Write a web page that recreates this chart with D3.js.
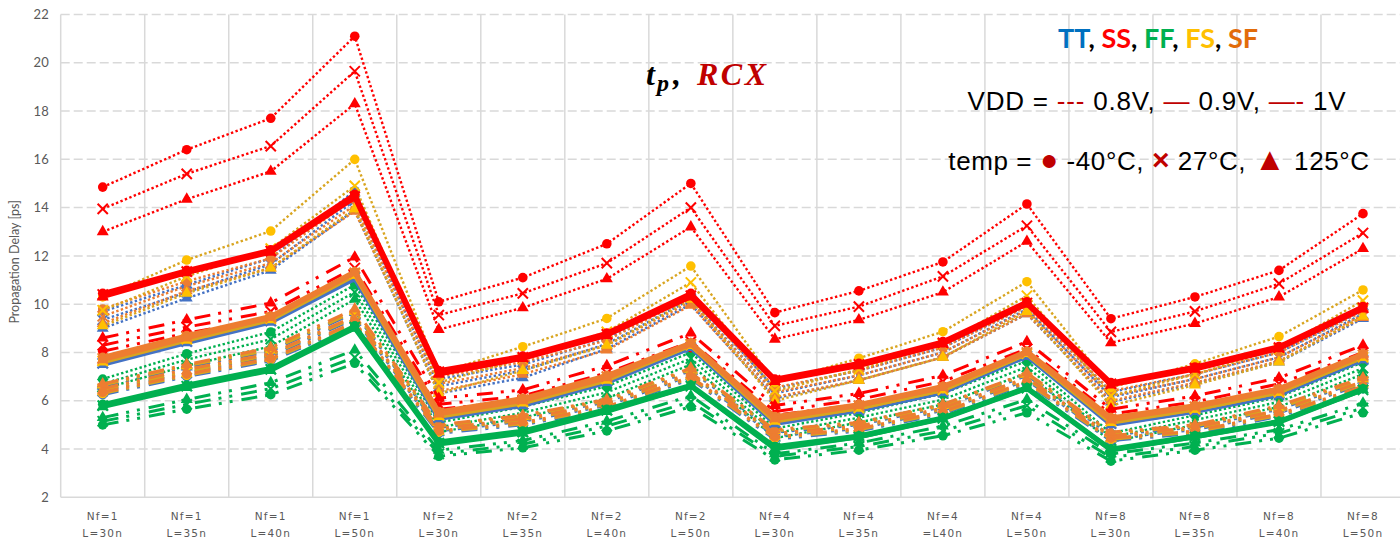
<!DOCTYPE html>
<html>
<head>
<meta charset="utf-8">
<script src="https://cdn.jsdelivr.net/npm/d3@7"></script>
<style>
  body { margin: 0; background: #fff; }
  svg { display: block; }
</style>
</head>
<body>
<svg id="chart" width="1400" height="539"></svg>
<script>
// ---- Categories (two-line tick labels) ----
const categoriesNf = ["Nf=1","Nf=1","Nf=1","Nf=1","Nf=2","Nf=2","Nf=2","Nf=2",
                      "Nf=4","Nf=4","Nf=4","Nf=4","Nf=8","Nf=8","Nf=8","Nf=8"];
const categoriesL  = ["L=30n","L=35n","L=40n","L=50n","L=30n","L=35n","L=40n","L=50n",
                      "L=30n","L=35n","=L40n","L=50n","L=30n","L=35n","L=40n","L=50n"];
const yTicks = [2,4,6,8,10,12,14,16,18,20,22];

// ---- Propagation delay [ps]; naming: corner + VDD + temperature ----
// SS
const ss08_m40 = [14.85,16.4,17.7,21.1,10.1,11.1,12.5,15.0,9.65,10.55,11.75,14.15,9.4,10.3,11.4,13.75];
const ss08_27  = [13.95,15.4,16.55,19.65,9.55,10.45,11.7,14.0,9.1,9.9,11.15,13.25,8.85,9.7,10.85,12.95];
const ss08_125 = [13.0,14.35,15.5,18.3,8.95,9.85,11.05,13.2,8.55,9.35,10.5,12.6,8.4,9.2,10.3,12.3];
const ss09_m40 = [10.45,11.4,12.25,14.55,7.25,7.85,8.8,10.45,6.9,7.55,8.45,10.1,6.75,7.4,8.25,9.9];
const ss09_27  = [10.4,11.35,12.2,14.45,7.2,7.8,8.75,10.35,6.85,7.5,8.4,10.05,6.7,7.35,8.2,9.85];
const ss09_125 = [10.3,11.3,12.15,14.4,7.1,7.75,8.7,10.3,6.8,7.45,8.35,10.0,6.65,7.3,8.15,9.8];
const ss10_m40 = [8.05,8.8,9.4,11.15,5.65,6.0,6.95,8.2,5.4,5.85,6.6,7.9,5.25,5.8,6.5,7.75];
const ss10_27  = [8.3,9.05,9.7,11.5,5.85,6.2,7.15,8.45,5.55,6.05,6.8,8.15,5.45,5.95,6.7,8.0];
const ss10_125 = [8.6,9.35,10.05,11.95,6.1,6.45,7.45,8.8,5.8,6.3,7.05,8.45,5.65,6.2,6.95,8.3];
// TT
const tt08_m40 = [9.7,10.8,11.9,14.7,6.9,7.5,8.55,10.4,6.5,7.25,8.2,9.95,6.35,7.1,8.0,9.75];
const tt08_27  = [9.35,10.5,11.65,14.3,6.6,7.25,8.35,10.2,6.3,7.05,8.0,9.8,6.15,6.9,7.8,9.6];
const tt08_125 = [9.0,10.25,11.4,13.9,6.3,6.95,8.15,10.0,6.1,6.85,7.8,9.6,5.95,6.7,7.6,9.4];
const tt09_m40 = [7.6,8.5,9.35,11.15,5.35,5.9,6.85,8.25,5.15,5.65,6.4,7.9,5.1,5.6,6.3,7.75];
const tt09_27  = [7.55,8.45,9.3,11.1,5.3,5.85,6.8,8.2,5.1,5.6,6.35,7.85,5.05,5.55,6.25,7.7];
const tt09_125 = [7.5,8.4,9.25,11.05,5.25,5.8,6.75,8.2,5.05,5.6,6.35,7.85,5.0,5.55,6.25,7.7];
const tt10_m40 = [6.25,7.0,7.65,9.15,4.65,5.0,5.65,6.9,4.4,4.75,5.45,6.7,4.35,4.65,5.35,6.5];
const tt10_27  = [6.4,7.15,7.85,9.4,4.75,5.15,5.8,7.05,4.55,4.85,5.6,6.85,4.45,4.8,5.5,6.7];
const tt10_125 = [6.6,7.4,8.05,9.65,4.9,5.3,5.95,7.25,4.7,5.0,5.75,7.05,4.6,4.9,5.65,6.85];
// FS
const fs08_m40 = [10.3,11.83,13.03,16.0,7.15,8.24,9.41,11.58,6.75,7.76,8.86,10.93,6.55,7.53,8.66,10.59];
const fs08_27  = [9.75,11.15,12.3,14.9,6.75,7.75,8.85,10.9,6.4,7.3,8.35,10.35,6.2,7.1,8.15,10.15];
const fs08_125 = [9.1,10.45,11.5,13.95,6.3,7.25,8.3,10.2,6.0,6.85,7.8,9.7,5.8,6.65,7.6,9.5];
const fs09_m40 = [7.7,8.6,9.45,11.3,5.45,6.0,6.95,8.35,5.25,5.75,6.5,8.0,5.2,5.7,6.4,7.85];
const fs09_27  = [7.65,8.55,9.4,11.25,5.4,5.95,6.9,8.3,5.2,5.7,6.45,7.95,5.15,5.65,6.35,7.8];
const fs09_125 = [7.6,8.5,9.35,11.2,5.35,5.9,6.85,8.3,5.15,5.7,6.45,7.95,5.1,5.65,6.35,7.8];
const fs10_m40 = [6.3,7.05,7.7,9.2,4.7,5.05,5.7,6.95,4.45,4.8,5.5,6.75,4.4,4.7,5.4,6.55];
const fs10_27  = [6.45,7.2,7.9,9.45,4.8,5.2,5.85,7.1,4.6,4.9,5.65,6.9,4.5,4.85,5.55,6.75];
const fs10_125 = [6.65,7.45,8.1,9.7,4.95,5.35,6.0,7.3,4.75,5.05,5.8,7.1,4.65,4.95,5.7,6.9];
// SF
const sf08_m40 = [9.8,10.95,11.9,14.4,7.0,7.6,8.5,10.3,6.55,7.25,8.2,9.9,6.4,7.1,8.0,9.7];
const sf08_27  = [9.5,10.75,11.7,14.1,6.7,7.35,8.3,10.1,6.35,7.05,8.0,9.75,6.2,6.9,7.8,9.55];
const sf08_125 = [9.2,10.55,11.5,13.85,6.4,7.1,8.1,9.95,6.15,6.85,7.8,9.6,6.0,6.75,7.65,9.45];
const sf09_m40 = [7.8,8.7,9.5,11.35,5.55,6.1,7.05,8.4,5.35,5.85,6.6,8.05,5.3,5.8,6.5,7.95];
const sf09_27  = [7.75,8.65,9.45,11.3,5.5,6.05,7.0,8.35,5.3,5.8,6.55,8.0,5.25,5.75,6.45,7.9];
const sf09_125 = [7.7,8.6,9.45,11.3,5.45,6.0,6.95,8.35,5.25,5.8,6.55,8.0,5.2,5.75,6.45,7.9];
const sf10_m40 = [6.35,7.1,7.75,9.25,4.75,5.1,5.75,7.0,4.5,4.85,5.55,6.8,4.45,4.75,5.45,6.6];
const sf10_27  = [6.5,7.3,7.95,9.5,4.85,5.25,5.9,7.15,4.65,4.95,5.7,6.95,4.55,4.9,5.6,6.8];
const sf10_125 = [6.7,7.5,8.2,9.8,5.0,5.4,6.05,7.35,4.8,5.1,5.85,7.15,4.7,5.0,5.8,6.95];
// FF
const ff08_m40 = [6.9,7.95,8.85,10.8,5.1,5.75,6.6,8.0,4.85,5.5,6.3,7.65,4.65,5.4,6.15,7.6];
const ff08_27  = [6.7,7.7,8.55,10.5,4.9,5.5,6.35,7.75,4.65,5.3,6.05,7.4,4.5,5.2,5.95,7.35];
const ff08_125 = [6.5,7.45,8.25,10.2,4.7,5.3,6.1,7.5,4.45,5.1,5.85,7.15,4.3,5.0,5.75,7.1];
const ff09_m40 = [5.85,6.65,7.35,9.1,4.3,4.75,5.65,6.65,4.1,4.55,5.3,6.55,4.0,4.55,5.15,6.5];
const ff09_27  = [5.8,6.6,7.3,9.05,4.25,4.7,5.6,6.6,4.05,4.5,5.27,6.52,3.97,4.5,5.13,6.45];
const ff09_125 = [5.75,6.55,7.25,9.0,4.2,4.65,5.55,6.6,4.0,4.5,5.25,6.5,3.95,4.5,5.1,6.45];
const ff10_m40 = [5.0,5.65,6.25,7.55,3.7,4.05,4.75,5.75,3.55,3.95,4.55,5.5,3.5,3.95,4.45,5.5];
const ff10_27  = [5.15,5.85,6.5,7.8,3.8,4.2,4.95,5.95,3.7,4.1,4.75,5.8,3.65,4.1,4.65,5.7];
const ff10_125 = [5.3,6.05,6.75,8.1,3.95,4.35,5.15,6.2,3.8,4.25,4.95,6.05,3.8,4.25,4.8,5.9];

// ---- Styling keys ----
const cornerColors = { TT: "#4472C4", SS: "#FF0000", FF: "#00B050", FS: "#FFC000", SF: "#ED7D31" };
const cornerLineColors = { TT: "#4472C4", SS: "#FF0000", FF: "#00B050", FS: "#D9A520", SF: "#ED7D31" };
const vddStyles = {
  "0.8": { width: 2.4, dash: "2.4,2.4" },
  "0.9": { width: 4.5, dash: null },
  "1.0": { width: 3,   dash: "16,8,3,8,3,9" }
};

// Drawing order: 0.8 V first, then 1 V, then 0.9 V on top
const seriesList = [
  { corner: "TT", vdd: "0.8", temp: -40, values: tt08_m40 },
  { corner: "TT", vdd: "0.8", temp: 27,  values: tt08_27 },
  { corner: "TT", vdd: "0.8", temp: 125, values: tt08_125 },
  { corner: "FF", vdd: "0.8", temp: -40, values: ff08_m40 },
  { corner: "FF", vdd: "0.8", temp: 27,  values: ff08_27 },
  { corner: "FF", vdd: "0.8", temp: 125, values: ff08_125 },
  { corner: "SF", vdd: "0.8", temp: -40, values: sf08_m40 },
  { corner: "SF", vdd: "0.8", temp: 27,  values: sf08_27 },
  { corner: "SF", vdd: "0.8", temp: 125, values: sf08_125 },
  { corner: "FS", vdd: "0.8", temp: -40, values: fs08_m40 },
  { corner: "FS", vdd: "0.8", temp: 27,  values: fs08_27 },
  { corner: "FS", vdd: "0.8", temp: 125, values: fs08_125 },
  { corner: "SS", vdd: "0.8", temp: -40, values: ss08_m40 },
  { corner: "SS", vdd: "0.8", temp: 27,  values: ss08_27 },
  { corner: "SS", vdd: "0.8", temp: 125, values: ss08_125 },
  { corner: "TT", vdd: "1.0", temp: -40, values: tt10_m40 },
  { corner: "TT", vdd: "1.0", temp: 27,  values: tt10_27 },
  { corner: "TT", vdd: "1.0", temp: 125, values: tt10_125 },
  { corner: "FS", vdd: "1.0", temp: -40, values: fs10_m40 },
  { corner: "FS", vdd: "1.0", temp: 27,  values: fs10_27 },
  { corner: "FS", vdd: "1.0", temp: 125, values: fs10_125 },
  { corner: "SF", vdd: "1.0", temp: -40, values: sf10_m40 },
  { corner: "SF", vdd: "1.0", temp: 27,  values: sf10_27 },
  { corner: "SF", vdd: "1.0", temp: 125, values: sf10_125 },
  { corner: "FF", vdd: "1.0", temp: -40, values: ff10_m40 },
  { corner: "FF", vdd: "1.0", temp: 27,  values: ff10_27 },
  { corner: "FF", vdd: "1.0", temp: 125, values: ff10_125 },
  { corner: "SS", vdd: "1.0", temp: -40, values: ss10_m40 },
  { corner: "SS", vdd: "1.0", temp: 27,  values: ss10_27 },
  { corner: "SS", vdd: "1.0", temp: 125, values: ss10_125 },
  { corner: "TT", vdd: "0.9", temp: -40, values: tt09_m40 },
  { corner: "TT", vdd: "0.9", temp: 27,  values: tt09_27 },
  { corner: "TT", vdd: "0.9", temp: 125, values: tt09_125 },
  { corner: "FS", vdd: "0.9", temp: -40, values: fs09_m40 },
  { corner: "FS", vdd: "0.9", temp: 27,  values: fs09_27 },
  { corner: "FS", vdd: "0.9", temp: 125, values: fs09_125 },
  { corner: "SF", vdd: "0.9", temp: -40, values: sf09_m40 },
  { corner: "SF", vdd: "0.9", temp: 27,  values: sf09_27 },
  { corner: "SF", vdd: "0.9", temp: 125, values: sf09_125 },
  { corner: "FF", vdd: "0.9", temp: -40, values: ff09_m40 },
  { corner: "FF", vdd: "0.9", temp: 27,  values: ff09_27 },
  { corner: "FF", vdd: "0.9", temp: 125, values: ff09_125 },
  { corner: "SS", vdd: "0.9", temp: -40, values: ss09_m40 },
  { corner: "SS", vdd: "0.9", temp: 27,  values: ss09_27 },
  { corner: "SS", vdd: "0.9", temp: 125, values: ss09_125 }
];

// ---- Layout ----
const svg = d3.select("#chart");
const plot = { left: 60.7, right: 1405, top: 14.5, bottom: 497.3 };
const idx = d3.range(categoriesNf.length);

const x = d3.scaleBand().domain(idx).range([plot.left, plot.right]).paddingInner(0).paddingOuter(0);
const y = d3.scaleLinear().domain([2, 22]).range([plot.bottom, plot.top]);
const cx = i => x(i) + x.bandwidth() / 2;

const gridColor = "#D9D9D9";
const labelColor = "#595959";

// Horizontal dashed gridlines
svg.append("g")
  .selectAll("line")
  .data(yTicks.filter(t => t > 2))
  .join("line")
  .attr("x1", plot.left).attr("x2", plot.right)
  .attr("y1", d => y(d)).attr("y2", d => y(d))
  .attr("stroke", gridColor).attr("stroke-width", 1.5)
  .attr("stroke-dasharray", "9,4");

// Vertical gridlines at category boundaries
svg.append("g")
  .selectAll("line")
  .data(d3.range(categoriesNf.length + 1))
  .join("line")
  .attr("x1", d => plot.left + d * x.step()).attr("x2", d => plot.left + d * x.step())
  .attr("y1", plot.top).attr("y2", plot.bottom)
  .attr("stroke", gridColor).attr("stroke-width", 1.5);

// Bottom axis line
svg.append("line")
  .attr("x1", plot.left).attr("x2", plot.right)
  .attr("y1", y(2)).attr("y2", y(2))
  .attr("stroke", gridColor).attr("stroke-width", 1.5);

// Y axis labels
const yAxis = d3.axisLeft(y).tickValues(yTicks).tickSize(0).tickPadding(0).tickFormat(d3.format("d"));
const yg = svg.append("g").attr("transform", `translate(${plot.left - 12},0)`).call(yAxis);
yg.select(".domain").remove();
yg.selectAll("text")
  .attr("fill", labelColor)
  .style("font-family", "Lato, 'Open Sans', sans-serif")
  .style("font-size", "13px");

// Y axis title
svg.append("text")
  .attr("transform", `translate(19,${(plot.top + plot.bottom) / 2 + 6}) rotate(-90)`)
  .attr("text-anchor", "middle")
  .attr("fill", labelColor)
  .style("font-family", "Lato, 'Open Sans', sans-serif")
  .style("font-size", "12.5px")
  .text("Propagation Delay [ps]");

// X category labels (two lines)
const xg = svg.append("g");
idx.forEach(i => {
  const t = xg.append("text")
    .attr("x", cx(i))
    .attr("text-anchor", "middle")
    .attr("fill", labelColor)
    .style("font-family", "'DejaVu Sans', sans-serif")
    .style("font-size", "10.5px")
    .style("letter-spacing", "1.2px");
  t.append("tspan").attr("x", cx(i)).attr("y", 520).text(categoriesNf[i]);
  t.append("tspan").attr("x", cx(i)).attr("y", 537).text(categoriesL[i]);
});

// ---- Series ----
const line = d3.line().x((d, i) => cx(i)).y(d => y(d));
const symbolFor = {
  "-40": d3.symbol().type(d3.symbolCircle).size(72),
  "27":  d3.symbol().type(d3.symbolTimes).size(70),
  "125": d3.symbol().type(d3.symbolTriangle).size(62)
};

const seriesG = svg.append("g");
seriesList.forEach(s => {
  const st = vddStyles[s.vdd];
  const g = seriesG.append("g");
  g.append("path")
    .datum(s.values)
    .attr("d", line)
    .attr("fill", "none")
    .attr("stroke", cornerLineColors[s.corner])
    .attr("stroke-width", st.width)
    .attr("stroke-linejoin", "round")
    .attr("stroke-dasharray", st.dash);
  const col = cornerColors[s.corner];
  g.selectAll("path.mk")
    .data(s.values)
    .join("path")
    .attr("class", "mk")
    .attr("transform", (d, i) => `translate(${cx(i)},${y(d)})`)
    .attr("d", symbolFor[String(s.temp)]())
    .attr("fill", s.temp === 27 ? "none" : col)
    .attr("stroke", s.temp === 27 ? col : "none")
    .attr("stroke-width", s.temp === 27 ? 2 : 0);
});

// ---- Title ----
const titleStyle = sel => sel
  .style("font-family", "'Liberation Serif', 'DejaVu Serif', serif")
  .style("font-weight", "bold")
  .style("font-style", "italic")
  .style("font-size", "32px");
const title = svg.append("text").attr("x", 646).attr("y", 85).call(titleStyle);
title.append("tspan").attr("fill", "#000").text("t");
title.append("tspan").attr("fill", "#000").attr("dx", 2).attr("dy", 6).style("font-size", "24px").text("p");
title.append("tspan").attr("fill", "#000").attr("dx", 4).attr("dy", -6).text(",");
svg.append("text").attr("x", 697).attr("y", 85).call(titleStyle)
  .attr("fill", "#C00000").style("letter-spacing", "2.5px").text("RCX");

// ---- Legend text block ----
const legendFont = "'Liberation Sans', Arial, sans-serif";
const darkRed = "#C00000";
const l1 = svg.append("text")
  .attr("x", 1158).attr("y", 48)
  .attr("text-anchor", "middle")
  .style("font-family", "Lato, sans-serif")
  .style("font-weight", "bold")
  .style("font-size", "27px");
[["TT", "#0070C0"], [", ", "#000"], ["SS", "#FF0000"], [", ", "#000"], ["FF", "#00B050"],
 [", ", "#000"], ["FS", "#FFC000"], [", ", "#000"], ["SF", "#E26B0A"]]
  .forEach(([t, c]) => l1.append("tspan").attr("fill", c).text(t));

const l2 = svg.append("text")
  .attr("x", 1157).attr("y", 110)
  .attr("text-anchor", "middle")
  .style("font-family", legendFont)
  .style("font-size", "26px")
  .style("letter-spacing", "0.8px");
[["VDD = ", "#000"], ["---", darkRed], [" 0.8V, ", "#000"], ["\u2014", darkRed],
 [" 0.9V, ", "#000"], ["\u2014-", darkRed], [" 1V", "#000"]]
  .forEach(([t, c]) => l2.append("tspan").attr("fill", c).text(t));

const l3 = svg.append("text")
  .attr("x", 1159).attr("y", 170)
  .attr("text-anchor", "middle")
  .style("font-family", legendFont)
  .style("font-size", "26px")
  .style("letter-spacing", "0.6px");
[["temp = ", "#000", null], ["\u25CF", darkRed, "30px"], [" -40\u00B0C, ", "#000", null],
 ["\u00D7", darkRed, "30px"], [" 27\u00B0C, ", "#000", null], ["\u25B2", darkRed, "32px"],
 [" 125\u00B0C", "#000", null]]
  .forEach(([t, c, fs]) => {
    const ts = l3.append("tspan").attr("fill", c).text(t);
    if (fs) ts.style("font-size", fs).style("font-weight", "bold");
  });
</script>
</body>
</html>
